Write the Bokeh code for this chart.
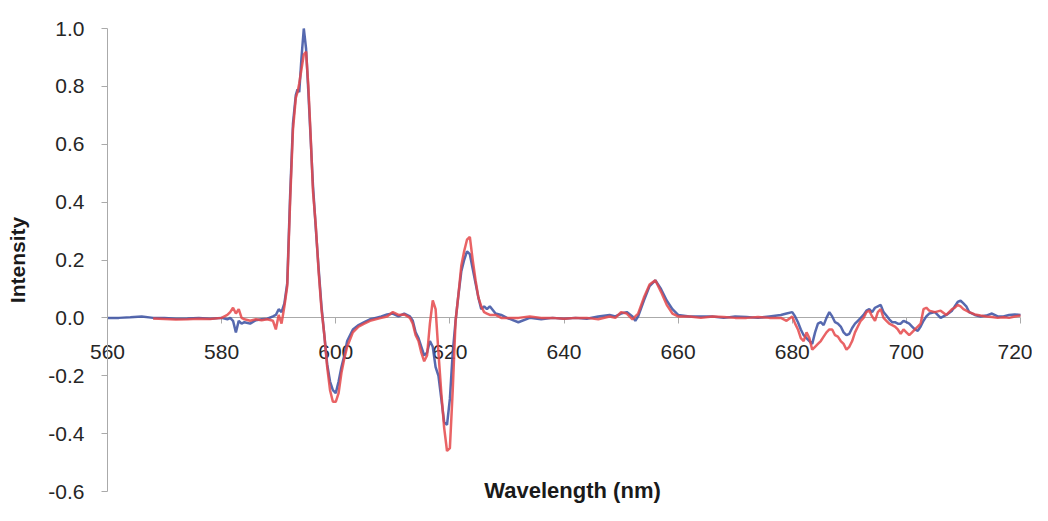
import numpy as np
from bokeh.plotting import figure
from bokeh.models import Range1d, FixedTicker, NumeralTickFormatter, Label
from bokeh.embed import file_html
from bokeh.resources import INLINE

nan = float("nan")

wavelength = [
    560, 562, 564, 566, 568, 570, 572, 574, 576, 578,
    580, 581, 581.5, 582, 582.5, 583, 583.5, 584, 585, 586,
    587, 588, 589, 589.5, 590, 590.5, 591, 591.5, 592, 592.5,
    593, 593.3, 593.6, 594, 594.4, 594.8, 595.2, 595.6, 596, 596.5,
    597, 597.5, 598, 598.5, 599, 599.5, 600, 600.5, 601, 601.5,
    602, 603, 604, 605, 606, 607, 608, 609, 610, 611,
    612, 613, 613.5, 614, 614.5, 615, 615.5, 616, 616.5, 617,
    617.5, 618, 618.5, 619, 619.5, 620, 620.5, 621, 621.5, 622,
    622.5, 623, 623.5, 624, 624.5, 625, 625.5, 626, 626.5, 627,
    628, 629, 630, 632, 634, 636, 638, 640, 642, 644,
    646, 648, 649, 650, 651, 652, 652.5, 653, 654, 655,
    656, 657, 658, 659, 660, 662, 664, 666, 668, 670,
    672, 674, 676, 678, 679, 680, 680.5, 681, 681.5, 682,
    682.5, 683, 683.5, 684, 684.5, 685, 685.5, 686, 686.5, 687,
    687.5, 688, 688.5, 689, 689.5, 690, 690.5, 691, 691.5, 692,
    692.5, 693, 693.5, 694, 694.5, 695, 695.5, 696, 696.5, 697,
    697.5, 698, 698.5, 699, 699.5, 700, 700.5, 701, 701.5, 702,
    702.5, 703, 703.5, 704, 705, 706, 707, 708, 708.5, 709,
    709.5, 710, 710.5, 711, 712, 713, 714, 715, 716, 717,
    718, 719, 720,
]

blue_intensity = [
    0.0, 0.0, 0.002, 0.005, 0.0, 0.0, -0.003, -0.002, 0.0, -0.003,
    0.0, -0.005, 0.0, -0.01, -0.05, -0.01, -0.02, -0.015, -0.02, -0.008,
    -0.005, -0.003, 0.005, 0.01, 0.03, 0.02, 0.05, 0.12, 0.42, 0.67,
    0.77, 0.79, 0.78, 0.90, 1.0, 0.93, 0.78, 0.62, 0.46, 0.31,
    0.17, 0.04, -0.06, -0.16, -0.22, -0.25, -0.26, -0.22, -0.17, -0.13,
    -0.08, -0.04, -0.025, -0.015, -0.005, 0.0, 0.005, 0.012, 0.015, 0.005,
    0.015, 0.005, -0.01, -0.05, -0.07, -0.10, -0.13, -0.12, -0.08, -0.10,
    -0.17, -0.20, -0.28, -0.36, -0.37, -0.28, -0.12, -0.01, 0.08, 0.16,
    0.20, 0.23, 0.22, 0.17, 0.12, 0.07, 0.03, 0.04, 0.03, 0.04,
    0.015, 0.01, 0.0, -0.015, 0.0, -0.005, 0.0, -0.003, 0.0, -0.003,
    0.005, 0.01, 0.005, 0.015, 0.02, 0.005, -0.01, 0.005, 0.06, 0.11,
    0.13, 0.10, 0.06, 0.03, 0.01, 0.005, 0.005, 0.005, 0.0, 0.005,
    0.003, 0.0, 0.005, 0.01, 0.015, 0.02, 0.005, -0.015, -0.04, -0.06,
    -0.07, -0.08, -0.09, -0.05, -0.02, -0.015, -0.025, 0.0, 0.02, 0.005,
    -0.015, -0.02, -0.03, -0.05, -0.06, -0.055, -0.035, -0.02, -0.01, 0.0,
    0.01, 0.025, 0.03, 0.02, 0.035, 0.04, 0.045, 0.02, 0.008, -0.005,
    -0.015, -0.015, -0.02, -0.02, -0.01, -0.015, -0.02, -0.03, -0.04, -0.045,
    -0.03, -0.01, 0.005, 0.015, 0.02, 0.0, 0.01, 0.025, 0.04, 0.055,
    0.06, 0.05, 0.04, 0.02, 0.01, 0.005, 0.008, 0.015, 0.005, 0.005,
    0.01, 0.012, 0.01,
]

red_intensity = [
    nan, nan, nan, nan, -0.002, -0.004, -0.006, -0.005, -0.003, -0.004,
    0.0, 0.01, 0.02, 0.035, 0.015, 0.03, 0.0, -0.005, -0.01, -0.005,
    -0.008, -0.005, -0.01, -0.04, 0.01, -0.02, 0.04, 0.11, 0.40, 0.65,
    0.76, 0.78, 0.81, 0.86, 0.91, 0.92, 0.80, 0.63, 0.44, 0.32,
    0.16, 0.03, -0.06, -0.17, -0.25, -0.29, -0.29, -0.26, -0.19, -0.14,
    -0.10, -0.05, -0.03, -0.02, -0.01, -0.005, 0.0, 0.005, 0.02, 0.01,
    0.012, 0.0, -0.02, -0.06, -0.08, -0.12, -0.15, -0.13, -0.02, 0.06,
    0.03, -0.12, -0.26, -0.38, -0.46, -0.45, -0.25, -0.01, 0.08, 0.18,
    0.23, 0.27, 0.28, 0.20, 0.13, 0.07, 0.04, 0.02, 0.015, 0.01,
    0.01, 0.0, 0.0, 0.0, 0.005, 0.0, 0.0, -0.003, 0.0, 0.0,
    -0.005, 0.005, 0.0, 0.02, 0.015, -0.005, 0.005, 0.015, 0.07, 0.115,
    0.13, 0.09, 0.045, 0.015, 0.005, 0.005, 0.0, 0.005, 0.003, 0.0,
    0.0, 0.003, 0.0, 0.0, -0.01, 0.005, -0.02, -0.04, -0.07, -0.08,
    -0.05, -0.07, -0.11, -0.10, -0.09, -0.08, -0.065, -0.05, -0.04, -0.04,
    -0.06, -0.065, -0.08, -0.09, -0.11, -0.10, -0.08, -0.05, -0.03, -0.01,
    0.0, 0.02, 0.025, 0.005, -0.01, 0.02, 0.03, 0.0, -0.01, -0.02,
    -0.025, -0.03, -0.04, -0.055, -0.04, -0.05, -0.06, -0.05, -0.04, -0.03,
    -0.02, 0.03, 0.035, 0.025, 0.02, 0.025, 0.01, 0.03, 0.035, 0.045,
    0.04, 0.03, 0.025, 0.02, 0.012, 0.008, 0.005, 0.003, 0.0, 0.002,
    0.0, 0.005, 0.008,
]

x_ticks = [560, 580, 600, 620, 640, 660, 680, 700, 720]
y_ticks = [-0.6, -0.4, -0.2, 0.0, 0.2, 0.4, 0.6, 0.8, 1.0]
x_title = "Wavelength (nm)"
y_title = "Intensity"

FONT = "Liberation Sans"

W, H = 1032, 505
# pixel placement of the axes box inside the figure
X0_PX, X1_PX = 107.0, 1020.0     # x = 560 and x = 720
Y1_PX, Y0_PX = 28.0, 491.0       # y = 1.0 and y = -0.6
xs = (X1_PX - X0_PX) / (x_ticks[-1] - x_ticks[0])
ys = (Y0_PX - Y1_PX) / (y_ticks[-1] - y_ticks[0])
x_start = x_ticks[0] - X0_PX / xs
x_end = x_start + W / xs
y_end = y_ticks[-1] + Y1_PX / ys
y_start = y_end - H / ys

p = figure(
    width=W, height=H,
    x_range=Range1d(x_start, x_end), y_range=Range1d(y_start, y_end),
    output_backend="svg", toolbar_location=None,
    min_border_left=0, min_border_right=0,
    min_border_top=0, min_border_bottom=0,
    background_fill_color="white", border_fill_color="white",
)
p.outline_line_color = None
p.xgrid.visible = False
p.ygrid.visible = False

p.line(np.array(wavelength), np.array(blue_intensity, dtype=float),
       line_color="#4459a6", line_width=2.5, line_alpha=0.9)
p.line(np.array(wavelength), np.array(red_intensity, dtype=float),
       line_color="#e5484a", line_width=2.5, line_alpha=0.85)

# x axis crossing at y = 0
xa = p.xaxis[0]
xa.fixed_location = 0
xa.bounds = (x_ticks[0], x_ticks[-1])
xa.ticker = FixedTicker(ticks=x_ticks)
xa.minor_tick_line_color = None
xa.major_tick_in = 0
xa.major_tick_out = 6
xa.axis_line_color = "#aaaaaa"
xa.major_tick_line_color = "#aaaaaa"
xa.major_label_text_font = FONT
xa.major_label_text_font_size = "21px"
xa.major_label_text_color = "#262626"
xa.major_label_standoff = 21
xa.level = "underlay"

# y axis standing at x = 560
ya = p.yaxis[0]
ya.fixed_location = x_ticks[0]
ya.bounds = (y_ticks[0], y_ticks[-1])
ya.ticker = FixedTicker(ticks=y_ticks)
ya.formatter = NumeralTickFormatter(format="0.0")
ya.minor_tick_line_color = None
ya.major_tick_in = 0
ya.major_tick_out = 6
ya.axis_line_color = "#aaaaaa"
ya.major_tick_line_color = "#aaaaaa"
ya.major_label_text_font = FONT
ya.major_label_text_font_size = "21px"
ya.major_label_text_color = "#262626"
ya.major_label_standoff = 17
ya.axis_label = y_title
ya.axis_label_text_font = FONT
ya.axis_label_text_font_style = "bold"
ya.axis_label_text_font_size = "21px"
ya.axis_label_text_color = "#1a1a1a"
ya.axis_label_standoff = 16

p.add_layout(Label(
    x=641.5, y=-0.596, text=x_title,
    text_font=FONT, text_font_style="bold", text_font_size="22px",
    text_color="#1a1a1a", text_align="center", text_baseline="middle",
))

open("out.html", "w").write(file_html(p, INLINE))
